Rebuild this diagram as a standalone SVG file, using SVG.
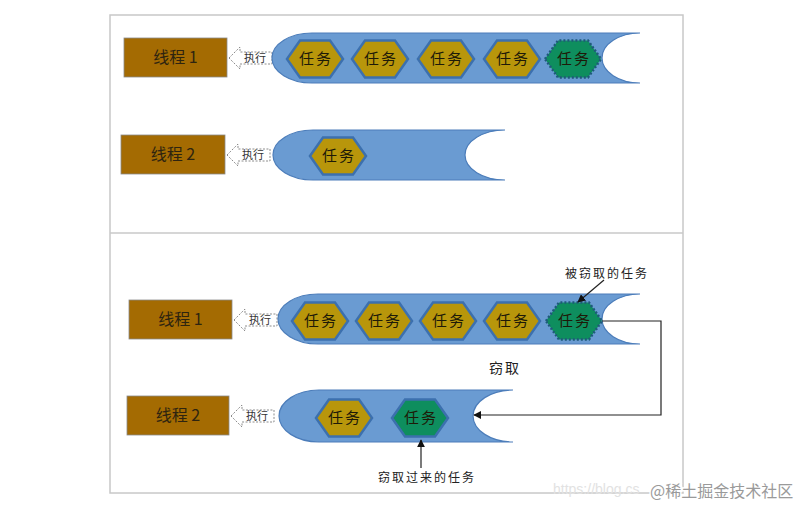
<svg xmlns="http://www.w3.org/2000/svg" width="808" height="505" viewBox="0 0 808 505">
<style>
.frame{fill:none;stroke:#c8c8c8;stroke-width:1.5}
.thread{fill:#A46B02;stroke:#8a8a8a;stroke-width:0.8}
.ttext{font-family:"Noto Sans CJK SC","Liberation Sans",sans-serif;font-size:16px;fill:#2e2410;text-anchor:middle}
.pill{fill:#6A9BD2;stroke:#4C7DBA;stroke-width:1.2}
.hex{fill:#B8960B;stroke:#3C70AE;stroke-width:2.5}
.hexg{fill:#0E8E5E;stroke:#3C70AE;stroke-width:2.5}
.hexgd{fill:#0E8E5E;stroke:#1F5A7A;stroke-width:2.5;stroke-dasharray:2 2}
.htext{font-family:"Noto Sans CJK SC",sans-serif;font-size:15px;fill:#1e1a08;text-anchor:middle;letter-spacing:2px}
.exec{fill:#ffffff;stroke:#8c8c8c;stroke-width:1;stroke-dasharray:2 1.5}
.etext{font-family:"Noto Sans CJK SC",sans-serif;font-size:11px;fill:#333;text-anchor:middle}
.lbl{font-family:"Noto Sans CJK SC",sans-serif;font-size:12px;fill:#222;letter-spacing:2px}
.conn{fill:none;stroke:#222;stroke-width:1.2}
</style>
<defs>
<marker id="ah" viewBox="0 0 10 10" refX="9" refY="5" markerWidth="8" markerHeight="8" orient="auto" markerUnits="userSpaceOnUse">
<path d="M0 0 L10 5 L0 10 Z" fill="#111"/>
</marker>
<polygon id="hexshape" points="-28,0 -15,-18.5 15,-18.5 28,0 15,18.5 -15,18.5"/>
<path id="execshape" d="M0 11 L11 0 L11 5 L43 5 L43 17 L11 17 L11 22 Z"/>
</defs>
<rect width="808" height="505" fill="#ffffff"/>
<g id="frame">
<rect class="frame" x="110" y="15" width="573" height="478"/>
<line class="frame" x1="110" y1="233" x2="683" y2="233"/>
</g>

<!-- top panel -->
<g id="t1-thread"><rect class="thread" x="124" y="38" width="103" height="39"/><text class="ttext" x="175.5" y="63">线程 1</text></g>
<g id="t1-exec"><use href="#execshape" class="exec" transform="translate(229,47)"/><text class="etext" x="255" y="62">执行</text></g>
<g id="t1-queue"><path class="pill" d="M312 33 L640 33 A38 25 0 0 0 640 83 L312 83 A40 25 0 0 1 312 33 Z"/></g>
<g id="t1-task1"><use href="#hexshape" class="hex" transform="translate(315,59)"/><text class="htext" x="316" y="64">任务</text></g>
<g id="t1-task2"><use href="#hexshape" class="hex" transform="translate(380,59)"/><text class="htext" x="381" y="64">任务</text></g>
<g id="t1-task3"><use href="#hexshape" class="hex" transform="translate(446,59)"/><text class="htext" x="447" y="64">任务</text></g>
<g id="t1-task4"><use href="#hexshape" class="hex" transform="translate(512,59)"/><text class="htext" x="513" y="64">任务</text></g>
<g id="t1-task5"><use href="#hexshape" class="hexgd" transform="translate(573,59)"/><text class="htext" x="574" y="64">任务</text></g>

<g id="t2-thread"><rect class="thread" x="121" y="135" width="104" height="39"/><text class="ttext" x="173" y="160">线程 2</text></g>
<g id="t2-exec"><use href="#execshape" class="exec" transform="translate(227,144)"/><text class="etext" x="253" y="159">执行</text></g>
<g id="t2-queue"><path class="pill" d="M313 130 L505 130 A40 25 0 0 0 505 180 L313 180 A40 25 0 0 1 313 130 Z"/></g>
<g id="t2-task1"><use href="#hexshape" class="hex" transform="translate(338,156)"/><text class="htext" x="339" y="161">任务</text></g>

<!-- bottom panel -->
<g id="b1-thread"><rect class="thread" x="129" y="300" width="103" height="39"/><text class="ttext" x="180.5" y="325">线程 1</text></g>
<g id="b1-exec"><use href="#execshape" class="exec" transform="translate(234,309)"/><text class="etext" x="260" y="324">执行</text></g>
<g id="b1-queue"><path class="pill" d="M318 294 L640 294 A38 25 0 0 0 640 344 L318 344 A40 25 0 0 1 318 294 Z"/></g>
<g id="b1-task1"><use href="#hexshape" class="hex" transform="translate(320,321)"/><text class="htext" x="321" y="326">任务</text></g>
<g id="b1-task2"><use href="#hexshape" class="hex" transform="translate(384,321)"/><text class="htext" x="385" y="326">任务</text></g>
<g id="b1-task3"><use href="#hexshape" class="hex" transform="translate(448,321)"/><text class="htext" x="449" y="326">任务</text></g>
<g id="b1-task4"><use href="#hexshape" class="hex" transform="translate(512,321)"/><text class="htext" x="513" y="326">任务</text></g>
<g id="b1-task5"><use href="#hexshape" class="hexgd" transform="translate(574,321)"/><text class="htext" x="575" y="326">任务</text></g>

<g id="b2-thread"><rect class="thread" x="127" y="396" width="102" height="39"/><text class="ttext" x="178" y="421">线程 2</text></g>
<g id="b2-exec"><use href="#execshape" class="exec" transform="translate(231,405)"/><text class="etext" x="257" y="420">执行</text></g>
<g id="b2-queue"><path class="pill" d="M319 390 L513 390 A40 26 0 0 0 513 442 L319 442 A40 26 0 0 1 319 390 Z"/></g>
<g id="b2-task1"><use href="#hexshape" class="hex" transform="translate(344,418)"/><text class="htext" x="345" y="423">任务</text></g>
<g id="b2-task2"><use href="#hexshape" class="hexg" transform="translate(420,418)"/><text class="htext" x="421" y="423">任务</text></g>

<g id="labels">
<text class="lbl" x="565" y="278">被窃取的任务</text>
<text class="lbl" x="378" y="482">窃取过来的任务</text>
<text x="505" y="373" font-family="Noto Sans CJK SC,sans-serif" font-size="14" fill="#222" text-anchor="middle" letter-spacing="2">窃取</text>
</g>

<g id="connectors">
<line class="conn" x1="604" y1="280" x2="578" y2="302" marker-end="url(#ah)"/>
<path class="conn" d="M602 321 L661 321 L661 415 L474 415" marker-end="url(#ah)"/>
<line class="conn" x1="421" y1="468" x2="421" y2="440" marker-end="url(#ah)"/>
</g>

<g id="watermark">
<text x="553" y="494" font-family="Liberation Sans,sans-serif" font-size="14" fill="#e2e2e2">https://blog.cs</text>
<text x="650" y="497" font-family="Noto Sans CJK SC,sans-serif" font-size="16" fill="#9a9a9a" stroke="#ffffff" stroke-width="3" paint-order="stroke">@稀土掘金技术社区</text>
</g>
</svg>
